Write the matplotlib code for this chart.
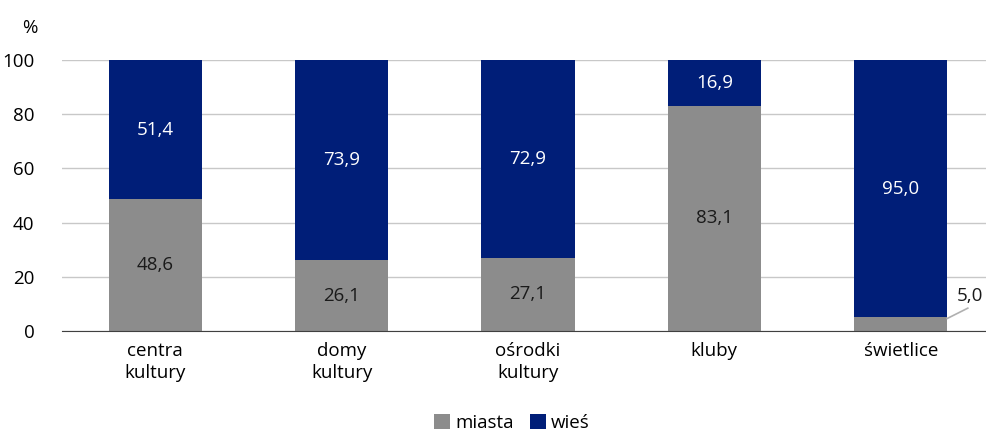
import numpy as np
import matplotlib
matplotlib.use('Agg')
import matplotlib.pyplot as plt

plt.rcParams['font.family'] = ['Open Sans', 'DejaVu Sans']

categories = ['centra\nkultury', 'domy\nkultury', 'ośrodki\nkultury', 'kluby', 'świetlice']
miasta = [48.6, 26.1, 27.1, 83.1, 5.0]
wies = [51.4, 73.9, 72.9, 16.9, 95.0]
yticks = [0, 20, 40, 60, 80, 100]

col_miasta = '#8c8c8c'
col_wies = '#001e78'
fs = 13.5

fig = plt.figure(figsize=(9.86, 4.32), dpi=100)
ax = fig.add_axes([0.063, 0.234, 0.945, 0.627])

x = np.arange(len(categories))
ax.bar(x, miasta, width=0.5, color=col_miasta, label='miasta', zorder=3)
ax.bar(x, wies, width=0.5, bottom=miasta, color=col_wies, label='wieś', zorder=3)

for i in range(len(x)):
    if miasta[i] >= 10:
        ax.text(x[i], miasta[i] / 2, f'{miasta[i]:.1f}'.replace('.', ','),
                ha='center', va='center', fontsize=fs, color='#1a1a1a', zorder=4)
    ax.text(x[i], miasta[i] + wies[i] / 2, f'{wies[i]:.1f}'.replace('.', ','),
            ha='center', va='center', fontsize=fs, color='white', zorder=4)

# small value outside the bar, with a leader line
i = 4
ax.text(x[i] + 0.37, 12.8, f'{miasta[i]:.1f}'.replace('.', ','), ha='center',
        va='center', fontsize=fs, color='#1a1a1a')
ax.plot([x[i] + 0.25, x[i] + 0.36], [4.6, 8.4], color='#b0b0b0', lw=1.2,
        clip_on=False, zorder=4)

ax.set_xlim(-0.5, 4.5)
ax.set_ylim(0, 100)
ax.set_yticks(yticks)
ax.set_xticks(x)
ax.set_xticklabels(categories, fontsize=fs, linespacing=1.3)
ax.tick_params(axis='y', labelsize=fs, length=0, pad=20)
ax.tick_params(axis='x', length=0, pad=8)
ax.yaxis.grid(True, color='#c8c8c8', lw=1, zorder=0)
for s in ['left', 'right', 'top']:
    ax.spines[s].set_visible(False)
ax.spines['bottom'].set_color('#404040')
ax.spines['bottom'].set_zorder(5)

fig.text(0.022, 0.935, '%', fontsize=fs, ha='left', va='center')

ax.legend(loc='center', bbox_to_anchor=(0.483, -0.34), ncol=2, frameon=False,
          fontsize=fs, handlelength=0.85, handleheight=0.85, handletextpad=0.25,
          columnspacing=0.9)

fig.savefig('out.png', dpi=100)
